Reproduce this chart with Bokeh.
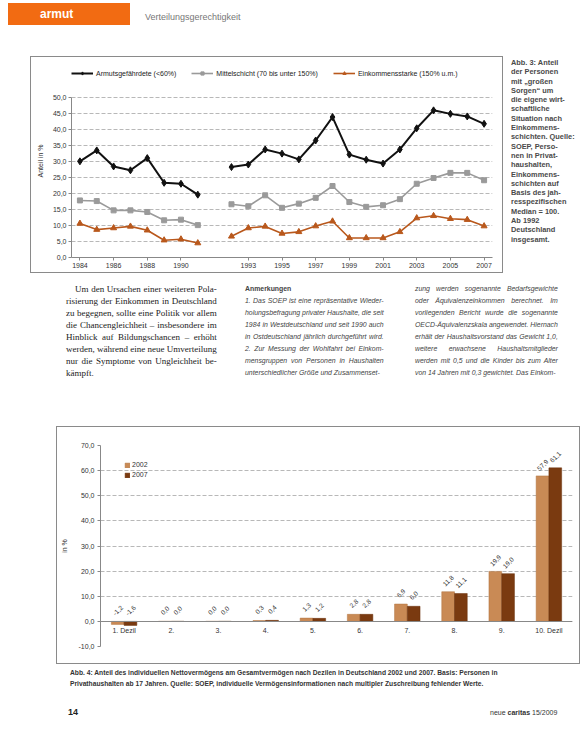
import math
from bokeh.plotting import figure
from bokeh.models import (ColumnDataSource, FixedTicker, Legend, LegendItem, Div,
                          Range1d, FactorRange)
from bokeh.layouts import column, row
from bokeh.transform import dodge
from bokeh.embed import file_html
from bokeh.resources import INLINE
from bokeh.core.properties import value

# ---------------- Data: Abb. 3 (Anteil mit "großen Sorgen", in %) ----------------
years_west = [1984, 1985, 1986, 1987, 1988, 1989, 1990, 1991]
years_gesamt = [1992, 1993, 1994, 1995, 1996, 1997, 1998, 1999,
                2000, 2001, 2002, 2003, 2004, 2005, 2006, 2007]

armut_west = [30.0, 33.4, 28.4, 27.2, 31.0, 23.3, 23.0, 19.6]
armut_gesamt = [28.2, 29.0, 33.7, 32.4, 30.6, 36.5, 43.8, 32.1,
                30.5, 29.3, 33.7, 40.3, 45.9, 44.8, 44.0, 41.7]

mitte_west = [17.8, 17.6, 14.7, 14.7, 14.2, 11.6, 11.8, 10.1]
mitte_gesamt = [16.6, 16.0, 19.4, 15.5, 16.8, 18.6, 22.3, 17.3,
                15.8, 16.3, 18.2, 23.0, 24.8, 26.4, 26.4, 24.1]

stark_west = [10.6, 8.7, 9.2, 9.7, 8.5, 5.4, 5.7, 4.5]
stark_gesamt = [6.6, 9.2, 9.7, 7.5, 8.0, 9.8, 11.3, 6.1,
                6.1, 6.1, 8.0, 12.3, 13.0, 12.1, 11.8, 9.8]

series_labels = ["Armutsgefährdete (<60%)",
                 "Mittelschicht (70 bis unter 150%)",
                 "Einkommensstarke (150% u.m.)"]
line_tick_years = [1984, 1986, 1988, 1990, 1993, 1995, 1997, 1999,
                   2001, 2003, 2005, 2007]
line_y_ticks = [0, 5, 10, 15, 20, 25, 30, 35, 40, 45, 50]

# ---------------- Data: Abb. 4 (Anteil am Gesamtvermögen nach Dezilen, in %) ------
deciles = ["1. Dezil", "2.", "3.", "4.", "5.", "6.", "7.", "8.", "9.", "10. Dezil"]
share_2002 = [-1.2, 0.0, 0.0, 0.3, 1.3, 2.8, 6.9, 11.8, 19.9, 57.9]
share_2007 = [-1.6, 0.0, 0.0, 0.4, 1.2, 2.8, 6.0, 11.1, 19.0, 61.1]
bar_y_ticks = [-10, 0, 10, 20, 30, 40, 50, 60, 70]

FONT = "Liberation Sans"


def de(v):
    return f"{v:.1f}".replace(".", ",")


def year_pos(y):
    # West Germany series, one empty slot, then Germany as a whole
    return y - 1984 if y <= 1991 else y - 1983


def series(west, gesamt):
    xs = [year_pos(y) for y in years_west] + [float("nan")] + [year_pos(y) for y in years_gesamt]
    ys = list(west) + [float("nan")] + list(gesamt)
    return xs, ys


def mk_div(html, w, h):
    return Div(text=html, width=w, height=h, margin=(0, 0, 0, 0))


FRAME_STYLE = {"outline": "1px solid #8a8a8a"}

# ---------------- Line chart ----------------
# the range above 50 leaves room for the legend inside the frame; the axis stops at 50
p1 = figure(width=471, height=215, x_range=Range1d(-0.5, 24.5), y_range=Range1d(0, 60.2),
            output_backend="svg", toolbar_location=None,
            min_border_left=40, min_border_right=10, min_border_top=7, min_border_bottom=15,
            outline_line_color=None, background_fill_color="white", border_fill_color="white",
            margin=(0, 0, 0, 0))
p1.styles = FRAME_STYLE

colors = ["#111111", "#9a9a9a", "#b9581c"]
markers = ["diamond", "square", "triangle"]
msizes = [7, 5, 6]
lwidths = [2.0, 1.6, 1.6]
items = []
for lab, (w, g), c, m, ms, lw in zip(series_labels,
                                     [(armut_west, armut_gesamt), (mitte_west, mitte_gesamt),
                                      (stark_west, stark_gesamt)],
                                     colors, markers, msizes, lwidths):
    xs, ys = series(w, g)
    src = ColumnDataSource(dict(x=xs, y=ys))
    l = p1.line("x", "y", source=src, line_color=c, line_width=lw)
    s = p1.scatter("x", "y", source=src, marker=m, size=ms, fill_color=c, line_color=c)
    items.append(LegendItem(label=lab, renderers=[l, s]))

leg1 = Legend(items=items, orientation="horizontal", location=(0, 180),
              label_text_font_size="7px", label_text_font=FONT, label_text_color="#222",
              glyph_width=22, glyph_height=8, label_standoff=3, spacing=15,
              padding=0, margin=0, border_line_color=None, background_fill_alpha=0,
              label_height=8)
p1.add_layout(leg1)

p1.xgrid.grid_line_color = None
p1.ygrid.grid_line_color = "#b8b8b8"
p1.ygrid.grid_line_dash = "4 2"
p1.yaxis.ticker = FixedTicker(ticks=line_y_ticks)
p1.yaxis.major_label_overrides = {t: de(t) for t in line_y_ticks}
p1.yaxis.bounds = (line_y_ticks[0], line_y_ticks[-1])
p1.xaxis.ticker = FixedTicker(ticks=[year_pos(y) for y in line_tick_years])
p1.xaxis.major_label_overrides = {year_pos(y): str(y) for y in line_tick_years}
p1.yaxis.axis_label = "Anteil in %"
for ax in (p1.xaxis, p1.yaxis):
    ax.axis_line_color = "#888888"
    ax.major_tick_line_color = "#888888"
    ax.major_tick_out = 3
    ax.major_tick_in = 0
    ax.minor_tick_line_color = None
    ax.major_label_text_font_size = "7px"
    ax.major_label_text_font = FONT
    ax.major_label_text_color = "#333333"
    ax.major_label_standoff = 2
p1.yaxis.axis_label_text_font_size = "7px"
p1.yaxis.axis_label_text_font = FONT
p1.yaxis.axis_label_text_font_style = "normal"
p1.yaxis.axis_label_text_color = "#333333"
p1.yaxis.axis_label_standoff = 6

# ---------------- Bar chart ----------------
p2 = figure(width=522, height=236, x_range=FactorRange(*deciles), y_range=Range1d(-10, 70),
            output_backend="svg", toolbar_location=None,
            min_border_left=43, min_border_right=7, min_border_top=18, min_border_bottom=17,
            outline_line_color=None, background_fill_color="white", border_fill_color="white",
            margin=(0, 0, 0, 0))
p2.styles = FRAME_STYLE

bsrc = ColumnDataSource(dict(
    decile=deciles, s2002=share_2002, s2007=share_2007,
    ly2002=[max(v, 0) for v in share_2002], ly2007=[max(v, 0) for v in share_2007],
    t2002=[de(v) for v in share_2002], t2007=[de(v) for v in share_2007]))

b1 = p2.vbar(x=dodge("decile", -0.135, range=p2.x_range), top="s2002", width=0.27,
             source=bsrc, fill_color="#c98a55", line_color="#b07440", line_width=0.5)
b2 = p2.vbar(x=dodge("decile", 0.135, range=p2.x_range), top="s2007", width=0.27,
             source=bsrc, fill_color="#7a3a10", line_color="#6a300a", line_width=0.5)
for off, col in ((-0.135, "t2002"), (0.135, "t2007")):
    p2.text(x=dodge("decile", off, range=p2.x_range), y="ly" + col[1:], text=col, source=bsrc,
            angle=math.pi / 4, text_align="center", text_baseline="middle", y_offset=-11,
            text_font_size="6.5px", text_font=value(FONT), text_color="#333333")

leg2 = Legend(items=[LegendItem(label="2002", renderers=[b1]),
                     LegendItem(label="2007", renderers=[b2])],
              location=(24, 167), label_text_font_size="7px", label_text_font=FONT,
              label_text_color="#333", glyph_width=6, glyph_height=6, label_standoff=2,
              label_height=9, spacing=1, padding=2, margin=0,
              border_line_color=None, background_fill_alpha=0)
p2.add_layout(leg2)

p2.xgrid.grid_line_color = None
p2.ygrid.grid_line_color = "#b8b8b8"
p2.ygrid.grid_line_dash = "4 2"
p2.yaxis.ticker = FixedTicker(ticks=bar_y_ticks)
p2.yaxis.major_label_overrides = {t: de(t) for t in bar_y_ticks}
p2.yaxis.axis_label = "in %"
p2.xaxis.fixed_location = 0
for ax in (p2.xaxis, p2.yaxis):
    ax.axis_line_color = "#888888"
    ax.major_tick_line_color = "#888888"
    ax.major_tick_out = 3
    ax.major_tick_in = 0
    ax.minor_tick_line_color = None
    ax.major_label_text_font_size = "7px"
    ax.major_label_text_font = FONT
    ax.major_label_text_color = "#333333"
    ax.major_label_standoff = 3
p2.xaxis.major_tick_line_color = None
p2.yaxis.axis_label_text_font_size = "7px"
p2.yaxis.axis_label_text_font = FONT
p2.yaxis.axis_label_text_font_style = "normal"
p2.yaxis.axis_label_text_color = "#333333"
p2.yaxis.axis_label_standoff = 8

# ---------------- Page texts ----------------
header = mk_div(
    f'<div style="position:relative;width:585px;height:57px;font-family:\'{FONT}\';">'
    '<div style="position:absolute;left:8px;top:3px;width:122px;height:22px;background:#f26b12;"></div>'
    '<div style="position:absolute;left:40px;top:6px;color:#ffffff;font-weight:bold;font-size:12px;">armut</div>'
    '<div style="position:absolute;left:145px;top:11px;color:#777777;font-size:9px;">Verteilungsgerechtigkeit</div>'
    '</div>', 585, 57)

cap3_lines = ["Abb. 3: Anteil", "der Personen", "mit „großen", "Sorgen“ um", "die eigene wirt-",
              "schaftliche", "Situation nach", "Einkommens-", "schichten. Quelle:", "SOEP, Perso-",
              "nen in Privat-", "haushalten,", "Einkommens-", "schichten auf", "Basis des jah-",
              "resspezifischen", "Median = 100.", "Ab 1992", "Deutschland", "insgesamt."]
cap3 = mk_div(
    f'<div style="font-family:\'{FONT}\';font-size:7.4px;font-weight:bold;color:#4a4a4a;'
    'line-height:9.3px;padding-top:1px;white-space:nowrap;">' + "<br>".join(cap3_lines) + '</div>',
    74, 215)


def col_html(lines, font, size, style="normal", first_bold=False, indent=0, color="#333"):
    out = []
    for i, ln in enumerate(lines):
        last = i == len(lines) - 1
        st = f"text-align:justify;text-align-last:{'left' if last else 'justify'};white-space:nowrap;"
        if i == 0 and indent:
            st += f"padding-left:{indent}px;"
        if i == 0 and first_bold:
            st += "font-weight:bold;font-style:normal;text-align-last:left;"
        out.append(f'<div style="{st}">{ln}</div>')
    return (f'<div style="font-family:\'{font}\';font-size:{size}px;font-style:{style};'
            f'color:{color};line-height:12px;padding-top:11px;">' + "".join(out) + '</div>')


left_lines = ["Um den Ursachen einer weiteren Pola-", "risierung der Einkommen in Deutschland",
              "zu begegnen, sollte eine Politik vor allem", "die Chancengleichheit – insbesondere im",
              "Hinblick auf Bildungschancen – erhöht", "werden, während eine neue Umverteilung",
              "nur die Symptome von Ungleichheit be-", "kämpft."]
mid_lines = ["Anmerkungen", "1. Das SOEP ist eine repräsentative Wieder-",
             "holungsbefragung privater Haushalte, die seit",
             "1984 in Westdeutschland und seit 1990 auch",
             "in Ostdeutschland jährlich durchgeführt wird.",
             "2. Zur Messung der Wohlfahrt bei Einkom-",
             "mensgruppen von Personen in Haushalten",
             "unterschiedlicher Größe und Zusammenset-"]
right_lines = ["zung werden sogenannte Bedarfsgewichte",
               "oder Äquivalenzeinkommen berechnet. Im",
               "vorliegenden Bericht wurde die sogenannte",
               "OECD-Äquivalenzskala angewendet. Hiernach",
               "erhält der Haushaltsvorstand das Gewicht 1,0,",
               "weitere erwachsene Haushaltsmitglieder",
               "werden mit 0,5 und die Kinder bis zum Alter",
               "von 14 Jahren mit 0,3 gewichtet. Das Einkom-"]

left_col = mk_div(col_html(left_lines, "Liberation Serif", 9, indent=9, color="#222"), 176, 155)
mid_col = mk_div(col_html(mid_lines, FONT, 6.9, style="italic", first_bold=True, color="#444"), 168, 155)
right_col = mk_div(col_html(right_lines, FONT, 6.9, style="italic", color="#444"), 165, 155)
text_row = row(mk_div("", 66, 155), left_col, mk_div("", 3, 155), mid_col,
               mk_div("", 2, 155), right_col, spacing=0)

cap4 = mk_div(
    f'<div style="font-family:\'{FONT}\';font-size:6.7px;font-weight:bold;color:#333;'
    'line-height:11px;padding-top:4px;padding-left:70px;white-space:nowrap;">'
    'Abb. 4: Anteil des individuellen Nettovermögens am Gesamtvermögen nach Dezilen in Deutschland 2002 und 2007. Basis: Personen in<br>'
    'Privathaushalten ab 17 Jahren. Quelle: SOEP, individuelle Vermögensinformationen nach multipler Zuschreibung fehlender Werte.'
    '</div>', 585, 40)

footer = mk_div(
    f'<div style="position:relative;width:585px;height:30px;font-family:\'{FONT}\';">'
    '<div style="position:absolute;left:68px;top:3px;font-size:9px;font-weight:bold;color:#222;">14</div>'
    '<div style="position:absolute;left:490px;top:5px;font-size:7px;color:#333;">neue <b>caritas</b> 15/2009</div>'
    '</div>', 585, 30)

line_row = row(mk_div("", 31, 215), p1, mk_div("", 9, 215), cap3, spacing=0)
bar_row = row(mk_div("", 57, 236), p2, spacing=0)

page = column(header, line_row, text_row, bar_row, cap4, footer, spacing=0)

open("out.html", "w").write(file_html(page, INLINE))
